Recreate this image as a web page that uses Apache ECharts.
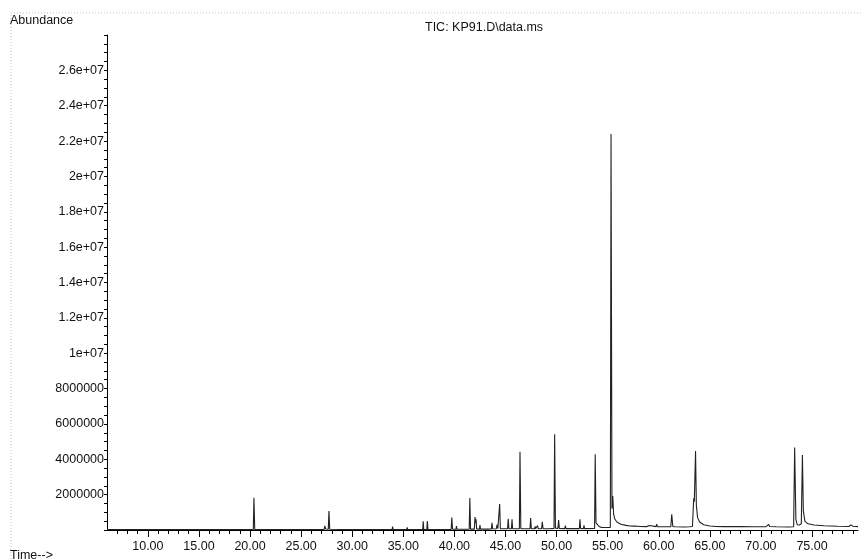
<!DOCTYPE html>
<html>
<head>
<meta charset="utf-8">
<script src="https://cdn.jsdelivr.net/npm/echarts@6.0.0/dist/echarts.min.js"></script>
<style>
  html, body { margin: 0; padding: 0; background: #fff; }
  #chart { width: 861px; height: 559px; }
</style>
</head>
<body>
<div id="chart"></div>
<script>
// retention time (min) / abundance pairs
var ticEarly = [
  [6.0, 20000], [17.7, 20000], [17.8, 130000], [17.88, 20000],
  [19.95, 20000], [20.0, 90000], [20.05, 20000],
  [20.32, 20000], [20.38, 1830000], [20.46, 30000],
  [22.55, 20000], [22.6, 100000], [22.66, 20000],
  [23.45, 20000], [23.5, 60000], [23.55, 20000],
  [24.2, 20000], [24.25, 50000], [24.3, 20000],
  [27.25, 30000], [27.32, 230000], [27.4, 60000],
  [27.66, 40000], [27.72, 1080000], [27.8, 40000],
  [29.5, 20000], [29.55, 50000], [29.6, 20000]
];
var ticMid = [
  [31.5, 20000], [31.55, 60000], [31.6, 20000],
  [33.9, 20000], [33.95, 190000], [34.0, 20000],
  [35.33, 20000], [35.38, 150000], [35.43, 20000],
  [36.1, 20000], [36.15, 80000], [36.2, 20000],
  [36.9, 20000], [36.95, 500000], [37.0, 20000],
  [37.3, 20000], [37.35, 510000], [37.41, 20000],
  [38.2, 20000], [38.25, 70000], [38.3, 20000],
  [39.02, 25000], [39.08, 130000], [39.14, 30000],
  [39.4, 30000], [39.45, 120000], [39.5, 30000],
  [39.68, 30000], [39.75, 710000], [39.82, 40000],
  [40.15, 40000], [40.2, 220000], [40.26, 40000],
  [41.45, 40000], [41.51, 1810000], [41.58, 50000],
  [41.95, 50000], [42.02, 730000], [42.08, 400000], [42.12, 600000], [42.18, 60000],
  [42.45, 50000], [42.5, 280000], [42.56, 50000],
  [43.3, 50000], [43.35, 100000], [43.4, 50000],
  [43.62, 60000], [43.68, 410000], [43.75, 60000],
  [44.1, 70000], [44.18, 300000], [44.25, 70000],
  [44.37, 70000], [44.43, 1470000], [44.5, 70000],
  [45.2, 70000], [45.27, 640000], [45.33, 70000],
  [45.58, 70000], [45.64, 610000], [45.7, 70000],
  [46.36, 70000], [46.42, 4430000], [46.5, 80000],
  [47.1, 70000], [47.15, 150000], [47.2, 70000],
  [47.4, 70000], [47.46, 670000], [47.53, 80000],
  [47.85, 70000], [47.9, 200000], [47.95, 70000],
  [48.08, 70000], [48.14, 250000], [48.2, 70000],
  [48.53, 70000], [48.6, 460000], [48.68, 70000],
  [49.3, 70000], [49.35, 130000], [49.4, 80000],
  [49.75, 90000], [49.81, 5420000], [49.89, 100000],
  [50.13, 90000], [50.2, 570000], [50.27, 90000],
  [50.8, 80000], [50.86, 250000], [50.92, 80000],
  [51.5, 80000], [51.55, 180000], [51.6, 80000],
  [52.23, 80000], [52.29, 600000], [52.35, 90000],
  [52.63, 80000], [52.68, 260000], [52.74, 80000]
];
var ticLate = [
  [53.72, 90000], [53.78, 4280000], [53.86, 400000], [53.95, 300000],
  [54.2, 180000], [54.4, 150000], [54.6, 140000],
  [55.26, 140000], [55.33, 22400000], [55.42, 1200000], [55.5, 1920000],
  [55.58, 900000], [55.7, 620000], [55.9, 450000], [56.3, 330000],
  [56.8, 260000], [57.2, 230000], [57.5, 220000], [57.6, 300000], [57.7, 230000],
  [58.2, 200000], [58.8, 190000], [59.1, 250000], [59.2, 190000],
  [59.74, 190000], [59.8, 330000], [59.87, 190000], [60.5, 180000],
  [61.18, 180000], [61.27, 890000], [61.38, 200000], [61.6, 180000],
  [62.5, 170000], [63.0, 180000],
  [63.3, 200000], [63.42, 1790000], [63.48, 1600000], [63.6, 4470000],
  [63.68, 1400000], [63.8, 700000], [64.0, 450000], [64.4, 300000],
  [65.0, 230000], [65.6, 200000], [66.4, 190000],
  [66.9, 190000], [67.0, 240000], [67.05, 190000],
  [67.35, 190000], [67.4, 270000], [67.45, 190000],
  [68.0, 190000], [68.1, 260000], [68.18, 190000],
  [69.2, 180000], [70.5, 190000], [70.65, 300000], [70.75, 320000], [70.85, 200000],
  [71.5, 180000], [72.8, 170000], [73.2, 180000],
  [73.3, 4660000], [73.42, 600000], [73.55, 300000], [73.75, 280000],
  [73.95, 350000], [74.06, 4240000], [74.15, 1100000], [74.3, 500000],
  [74.6, 350000], [75.2, 280000], [76.2, 240000], [77.5, 210000],
  [78.6, 200000], [78.8, 290000], [79.0, 210000], [79.5, 190000]
];

var timeLabels = [10, 15, 20, 25, 30, 35, 40, 45, 50, 55, 60, 65, 70, 75];
var minorTimeTicks = [];
for (var t = 7; t <= 79; t++) minorTimeTicks.push(t);

var font = "'Liberation Sans', Arial, sans-serif";
var ink = '#111';

var chart = echarts.init(document.getElementById('chart'));
chart.setOption({
  animation: false,
  backgroundColor: '#fff',
  grid: { left: 107, right: 3, top: 35, bottom: 29, containLabel: false, outerBoundsMode: 'none' },
  xAxis: [{
    type: 'value',
    min: 6, max: 79.5,
    splitLine: { show: false },
    axisLine: { lineStyle: { color: '#000', width: 1 } },
    axisTick: { customValues: minorTimeTicks, length: 4, lineStyle: { color: '#000' } },
    axisLabel: {
      customValues: timeLabels,
      margin: 10,
      color: ink, fontFamily: font, fontSize: 12.5,
      formatter: function (v) { return v.toFixed(2); }
    }
  }, {
    type: 'value',
    position: 'bottom',
    min: 6, max: 79.5,
    splitLine: { show: false },
    axisLine: { show: false },
    axisTick: { customValues: timeLabels, length: 7, lineStyle: { color: '#000' } },
    axisLabel: { show: false }
  }],
  yAxis: {
    type: 'value',
    min: 0, max: 28000000, interval: 2000000,
    splitLine: { show: false },
    axisLine: { show: true, lineStyle: { color: '#000', width: 1 } },
    axisTick: { show: true, length: 3, lineStyle: { color: '#000' } },
    minorTick: { show: true, splitNumber: 4, length: 3, lineStyle: { color: '#000' } },
    axisLabel: {
      margin: 3,
      color: ink, fontFamily: font, fontSize: 12.5,
      formatter: function (v) {
        if (v === 0 || v >= 28000000) return '';
        if (v >= 10000000) return parseFloat((v / 1e7).toFixed(1)) + 'e+07';
        return String(v);
      }
    }
  },
  graphic: [
    { type: 'polyline', silent: true,
      shape: { points: [[11, 559], [11, 13], [861, 13]] },
      style: { stroke: '#c4c4c4', lineWidth: 1, lineDash: [1, 2], fill: null } },
    { type: 'text', left: 10, top: 14,
      style: { text: 'Abundance', fill: ink, font: '12.5px ' + font } },
    { type: 'text', left: 10, top: 549,
      style: { text: 'Time-->', fill: ink, font: '12.5px ' + font } },
    { type: 'text', left: 425, top: 21,
      style: { text: 'TIC: KP91.D\\data.ms', fill: ink, font: '12.5px ' + font } }
  ],
  series: [{
    type: 'line',
    data: ticEarly.concat(ticMid, ticLate),
    showSymbol: false,
    sampling: null,
    lineStyle: { color: '#222', width: 1.1 }
  }]
});
</script>
</body>
</html>
